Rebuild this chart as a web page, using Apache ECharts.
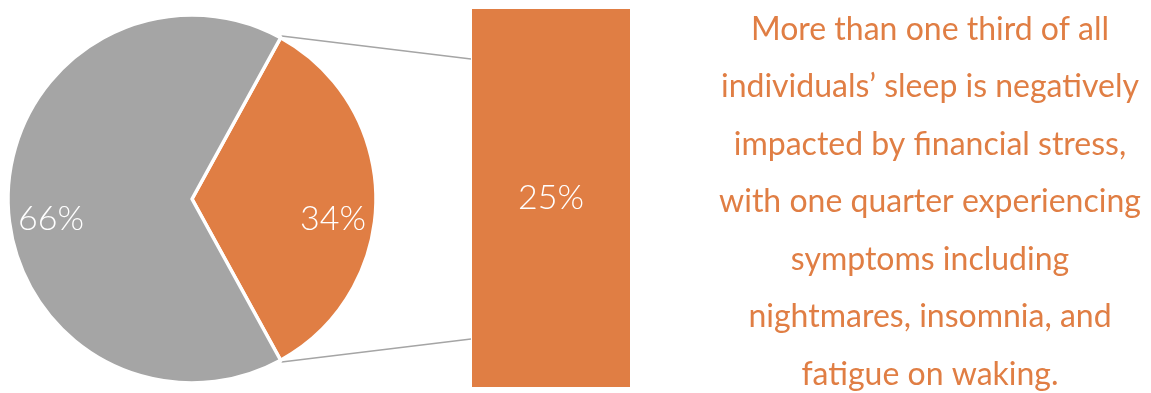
<!DOCTYPE html>
<html>
<head>
<meta charset="utf-8">
<script src="https://cdn.jsdelivr.net/npm/echarts@6/dist/echarts.min.js"></script>
<style>
  html, body { margin: 0; padding: 0; background: #fff; }
  #myChart { width: 1151px; height: 393px; }
</style>
</head>
<body>
<div id="myChart"></div>
<script>
var pieNames = ['Negatively impacted', 'Not impacted'];
var pieValues = [34, 66];
var barNames = ['Symptoms'];
var barValues = [25];
var noteLines = [
	'More than one third of all',
	'individuals\u2019 sleep is negatively',
	'impacted by financial stress,',
	'with one quarter experiencing',
	'symptoms including',
	'nightmares, insomnia, and',
	'fatigue on waking.'
];

window.onload = function () {
	'use strict';

	var orange = '#e07e44';
	var grey = '#a5a5a5';
	var center = [192, 199];
	var radius = 184;

	var total = pieValues[0] + pieValues[1];
	var half = pieValues[0] / total * 180; // half angle of the orange slice
	var pieData = [];
	var labelData = [];
	for (var i = 0; i < pieNames.length; i++) {
		pieData.push({
			name: pieNames[i],
			value: pieValues[i],
			itemStyle: {color: i === 0 ? orange : grey}
		});
		labelData.push({name: pieNames[i], value: pieValues[i]});
	}

	var rad = half * Math.PI / 180;
	var p1 = [center[0] + (radius + 2) * Math.cos(rad), center[1] - (radius + 2) * Math.sin(rad)];
	var p2 = [p1[0], center[1] + (radius + 2) * Math.sin(rad)];

	var labelStyle = {
		show: true,
		position: 'inside',
		color: '#fff',
		fontFamily: 'Lato',
		fontWeight: 300,
		fontSize: 34
	};

	var option = {
		animation: false,
		grid: {left: 472, top: 9, width: 158, height: 378},
		xAxis: {type: 'category', data: barNames, show: false},
		yAxis: {type: 'value', min: 0, max: 25, show: false},
		graphic: [
			{
				type: 'line',
				shape: {x1: p1[0], y1: p1[1], x2: 471, y2: 59},
				style: {stroke: grey, lineWidth: 1.5}
			},
			{
				type: 'line',
				shape: {x1: p2[0], y1: p2[1], x2: 471, y2: 339},
				style: {stroke: grey, lineWidth: 1.5}
			},
			{
				type: 'text',
				x: 930,
				y: 202,
				style: {
					text: noteLines.join('\n'),
					fill: orange,
					font: '32px Lato',
					lineHeight: 57.5,
					align: 'center',
					verticalAlign: 'middle'
				}
			}
		],
		series: [
			{
				type: 'pie',
				center: center,
				radius: [0, radius],
				startAngle: half,
				clockwise: true,
				label: {show: false},
				labelLine: {show: false},
				itemStyle: {borderColor: '#fff', borderWidth: 3.5},
				data: pieData
			},
			{ // label carrier, transparent ring so labels sit further out
				type: 'pie',
				center: center,
				radius: [92, radius],
				startAngle: half,
				clockwise: true,
				silent: true,
				z: 3,
				itemStyle: {color: 'rgba(0,0,0,0)', borderWidth: 0},
				label: echarts.util.extend({
					formatter: ' \n{c}%',
					lineHeight: 40
				}, labelStyle),
				labelLine: {show: false},
				data: labelData
			},
			{
				type: 'bar',
				barWidth: '100%',
				itemStyle: {color: orange},
				label: echarts.util.extend({formatter: '{c}%'}, labelStyle),
				data: barValues
			}
		]
	};

	var myChart = echarts.init(document.getElementById('myChart'));
	myChart.setOption(option);
};
</script>
</body>
</html>
